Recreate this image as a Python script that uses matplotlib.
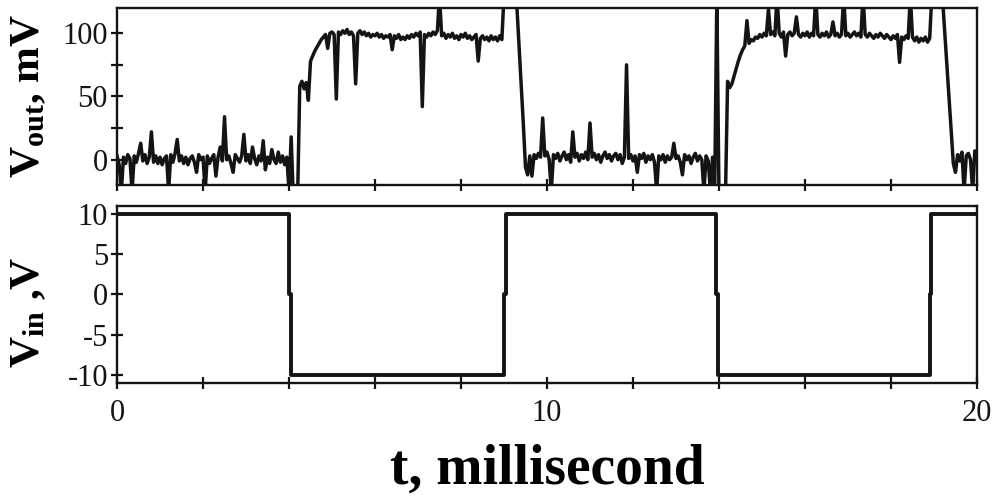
import numpy as np
import matplotlib
matplotlib.use('Agg')
import matplotlib.pyplot as plt

plt.rcParams['font.family'] = ['Liberation Serif', 'DejaVu Serif']
plt.rcParams['axes.unicode_minus'] = False
plt.rcParams['mathtext.fontset'] = 'custom'
plt.rcParams['mathtext.rm'] = 'Liberation Serif:bold'
plt.rcParams['mathtext.bf'] = 'Liberation Serif:bold'
plt.rcParams['mathtext.it'] = 'Liberation Serif:bold'

v_out = [
    # 0 - 1 ms
    3, -4, -25, 2, -3, 4, 1, -25, 3, -2, 5, 13, -1, 4, -3, 2, 22, -2, 3, -3,
    # 1 - 2 ms
    2, -4, 1, 3, -25, 4, -2, 5, 16, -1, 3, -3, 2, -4, 1, 3, -2, -10, 4, 0,
    # 2 - 3 ms
    2, -25, 3, -3, 1, 4, -13, 2, 10, -1, 34, 0, 3, -3, -10, 4, 1, -2, 3, 20,
    # 3 - 4 ms
    -1, 4, -3, 10, 1, -4, 3, -1, 15, -8, 2, -3, 8, 0, -3, 6, -2, 3, -4, 2,
    # 4 - 5 ms
    -25, 18, -30, -30, -30, 58, 62, 56, 61, 47, 78, 82, 86, 89, 92, 95, 97, 99, 88, 100,
    # 5 - 6 ms
    101, 99, 48, 101, 99, 102, 100, 103, 99, 101, 98, 60, 100, 102, 99, 101, 98, 100, 97, 99,
    # 6 - 7 ms
    98, 100, 97, 99, 96, 98, 97, 99, 87, 98, 96, 99, 95, 97, 95, 98, 96, 99, 97, 100,
    # 7 - 8 ms
    98, 101, 42, 99, 97, 100, 98, 101, 99, 102, 130, 98, 100, 96, 99, 97, 100, 96, 98, 95,
    # 8 - 9 ms
    99, 97, 100, 96, 98, 95, 97, 99, 78, 96, 98, 95, 97, 94, 98, 95, 97, 94, 98, 95,
    # 9 - 10 ms
    130, 130, 130, 130, 130, 130, 121, 90, 59, 28, -6, -12, 3, -13, 4, 1, 5, 2, 33, 3,
    # 10 - 11 ms
    6, 0, -25, 4, 1, 5, -1, 3, 6, 0, 4, -2, 22, 2, 5, -1, 4, 1, 6, 0,
    # 11 - 12 ms
    29, 2, 5, 0, 4, -2, 3, 6, 1, 4, -1, 3, 5, 0, 4, -3, 2, 75, 1, 4,
    # 12 - 13 ms
    -1, 3, -10, 4, 1, 5, -2, 3, 0, 4, -2, -25, 3, 0, 4, -2, 3, 0, 2, 13,
    # 13 - 14 ms
    1, 3, -2, -12, 4, 0, 3, -3, 2, 5, -1, 3, 0, -25, 3, -1, -25, 2, -25, 130,
    # 14 - 15 ms
    -30, -30, -30, -30, 62, 57, 60, 66, 72, 78, 83, 87, 90, 110, 92, 95, 94, 97, 96, 99,
    # 15 - 16 ms
    97, 100, 98, 119, 99, 101, 98, 130, 100, 97, 101, 82, 99, 101, 98, 100, 113, 99, 97, 100,
    # 16 - 17 ms
    98, 101, 97, 100, 98, 130, 99, 97, 100, 98, 101, 97, 99, 109, 98, 100, 97, 99, 130, 98,
    # 17 - 18 ms
    100, 97, 99, 101, 98, 100, 97, 130, 99, 97, 100, 98, 96, 99, 97, 100, 98, 96, 99, 97,
    # 18 - 19 ms
    95, 98, 96, 99, 77, 97, 95, 98, 96, 130, 97, 94, 97, 93, 96, 94, 97, 93, 96, 130,
    # 19 - 20 ms
    130, 130, 130, 130, 127, 101, 75, 49, 23, -3, -10, 4, -1, 6, -25, 3, 5, 0, -25, 7,
    2,
]
t_out = np.linspace(0, 20, len(v_out))

# input square wave, V
t_in = [0, 4.0, 4.0, 4.04, 4.04, 9.0, 9.0, 9.04, 9.04, 13.94, 13.94, 13.98, 13.98,
        18.9, 18.9, 18.94, 18.94, 20]
v_in = [10, 10, 0, 0, -10, -10, 0, 0, 10, 10, 0, 0, -10, -10, 0, 0, 10, 10]

x_ticks = list(range(0, 21, 2))
x_labels = ['0', '', '', '', '', '10', '', '', '', '', '20']

fig = plt.figure(figsize=(10.01, 4.99), dpi=100)
ax1 = fig.add_axes([0.1169, 0.6293, 0.8591, 0.3547])
ax2 = fig.add_axes([0.1169, 0.2325, 0.8591, 0.3547])

ax1.plot(t_out, v_out, color='#141414', lw=2.5)
ax2.plot(t_in, v_in, color='#141414', lw=2.8)

ax1.set_ylim(-20, 120)
ax1.set_yticks([0, 50, 100])
ax1.set_yticks([25, 75], minor=True)
ax2.set_ylim(-11, 11)
ax2.set_yticks([-10, -5, 0, 5, 10])

for ax in (ax1, ax2):
    ax.set_xlim(0, 20)
    ax.set_xticks(x_ticks)
    for s in ax.spines.values():
        s.set_linewidth(1.7)
        s.set_color('#141414')
    ax.tick_params(which='both', direction='inout', length=9, width=1.6,
                   labelsize=22, pad=2, colors='#141414')
    ax.tick_params(axis='x', pad=7)
ax1.set_xticklabels([])
ax2.set_xticklabels(x_labels)

fig.text(0.029, 0.808, r'$\mathrm{V_{out}}$, mV', rotation=90, ha='center', va='center',
         fontsize=31, fontweight='bold')
fig.text(0.029, 0.375, r'$\mathrm{V_{in}}$ ,V', rotation=90, ha='center', va='center',
         fontsize=31, fontweight='bold')
fig.text(0.547, 0.03, 't, millisecond', ha='center', va='baseline',
         fontsize=40, fontweight='bold')

fig.savefig('out.png', dpi=100)
